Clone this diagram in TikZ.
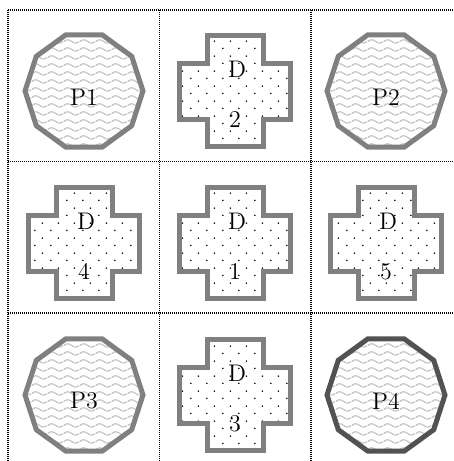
\documentclass[tikz,border=0pt]{standalone}
\usetikzlibrary{patterns.meta}

\pgfdeclarepattern{
  name=wavy,
  bottom left={\pgfpoint{0pt}{0pt}},
  top right={\pgfpoint{8pt}{4pt}},
  tile size={\pgfpoint{8pt}{4pt}},
  code={
    \pgfsetlinewidth{0.7pt}
    \pgfpathmoveto{\pgfpoint{0pt}{2pt}}
    \pgfpathcurveto{\pgfpoint{1.3pt}{3.2pt}}{\pgfpoint{2.7pt}{3.2pt}}{\pgfpoint{4pt}{2pt}}
    \pgfpathcurveto{\pgfpoint{5.3pt}{0.8pt}}{\pgfpoint{6.7pt}{0.8pt}}{\pgfpoint{8pt}{2pt}}
    \pgfusepath{stroke}
  }
}
\pgfdeclarepattern{
  name=stagdots,
  bottom left={\pgfpoint{0pt}{0pt}},
  top right={\pgfpoint{7.8pt}{7.6pt}},
  tile size={\pgfpoint{7.8pt}{7.6pt}},
  code={
    \pgfpathcircle{\pgfpoint{1.95pt}{1.9pt}}{0.45pt}
    \pgfpathcircle{\pgfpoint{5.85pt}{5.7pt}}{0.45pt}
    \pgfusepath{fill}
  }
}

\begin{document}
\begin{tikzpicture}[x=0.5pt, y=-0.5pt,
    gridrule/.style={dash pattern=on 0.5pt off 0.5pt, line width=0.55pt},
    plate/.style={line width=2.5pt, line join=miter, pattern=wavy, pattern color=black!22},
    dock/.style={draw=black!50, line width=2.5pt, line join=miter, pattern=stagdots, pattern color=black},
    tag/.style={font=\fontsize{12}{14}\selectfont, inner sep=0pt}]
\useasboundingbox (0,0) rectangle (454,461);

% cell borders
\foreach \p in {0,1,2} {
  \coordinate (hl\p) at (8, {10+\p*151.5});
  \coordinate (hr\p) at (454, {10+\p*151.5});
  \coordinate (vt\p) at ({8+\p*151.5}, 10);
  \coordinate (vb\p) at ({8+\p*151.5}, 461);
  \draw[gridrule] (hl\p) -- (hr\p);
  \draw[gridrule] (vt\p) -- (vb\p);
}

% decagons
\foreach \i/\j/\txt/\shade in {1/1/P1/50, 3/1/P2/50, 1/3/P3/50, 3/3/P4/68} {
  \coordinate (deca\txt) at ({84+(\i-1)*151}, {91+(\j-1)*152});
  \draw[plate, draw=black!\shade] (deca\txt) +(0:59)
    \foreach \k in {1,...,9}{ -- +(\k*36:59)} -- cycle;
  \node[tag] (lab\txt) at ({84+(\i-1)*151}, {97+(\j-1)*152}) {\txt};
}

% crosses
\foreach \i/\j/\num in {2/1/2, 1/2/4, 2/2/1, 3/2/5, 2/3/3} {
  \coordinate (cross\num) at ({84+(\i-1)*151}, {91+(\j-1)*152});
  \draw[dock] (cross\num) +(-28,-55.5) -- +(28,-55.5) -- +(28,-28) -- +(55.5,-28)
    -- +(55.5,28) -- +(28,28) -- +(28,55.5) -- +(-28,55.5) -- +(-28,28)
    -- +(-55.5,28) -- +(-55.5,-28) -- +(-28,-28) -- cycle;
  \node[tag] (d\num) at ({86+(\i-1)*151}, {69.5+(\j-1)*152}) {D};
  \node[tag] (n\num) at ({84+(\i-1)*151}, {119.5+(\j-1)*152}) {\num};
}
\end{tikzpicture}
\end{document}
